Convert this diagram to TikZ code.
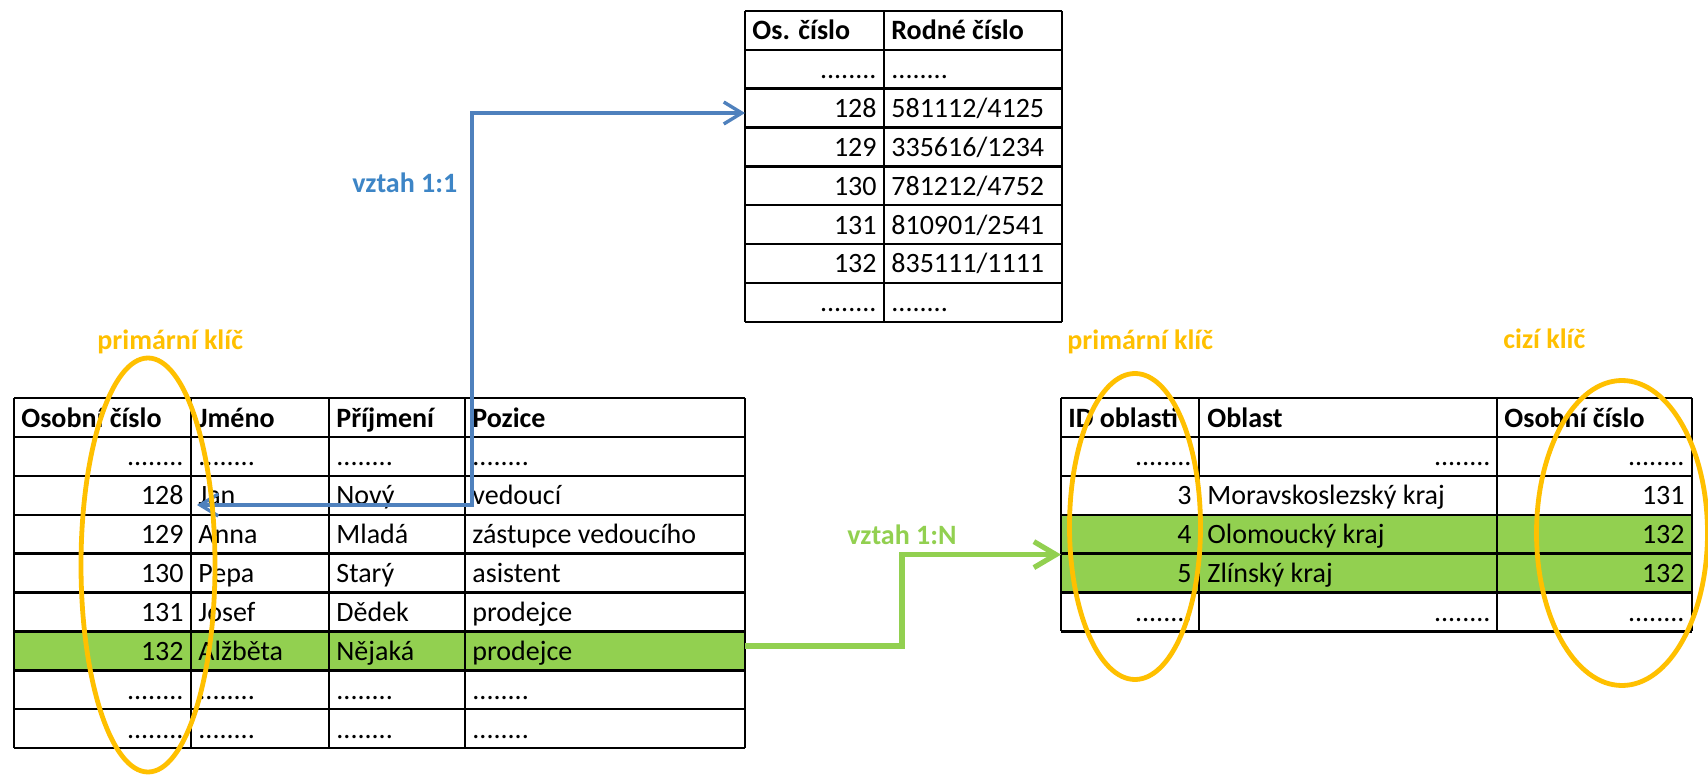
\documentclass[tikz,border=0pt]{standalone}
\usepackage{fontspec}
\setmainfont{Carlito}
\usetikzlibrary{arrows.meta,shapes.geometric}
\definecolor{keygold}{HTML}{FFC000}
\definecolor{rowgreen}{HTML}{92D050}
\definecolor{linkblue}{HTML}{4F81BD}
\definecolor{labelblue}{HTML}{3D85C6}
\newcommand{\mydots}{........}
\begin{document}
\begin{tikzpicture}[x=0.5pt,y=-0.5pt,
  grid/.style={line width=1.2pt, black},
  cellfont/.style={font=\fontsize{14}{16}\selectfont},
  txt/.style={cellfont, inner sep=0pt, anchor=base west},
  num/.style={cellfont, inner sep=0pt, anchor=base east},
  hdr/.style={inner sep=0pt, anchor=base west, font=\fontsize{14}{16}\selectfont\bfseries},
  keyring/.style={draw=keygold, line width=2.4pt, ellipse, inner sep=0pt},
  keylabel/.style={text=keygold, font=\fontsize{14}{16}\selectfont\bfseries, inner sep=0pt, anchor=base west},
  bluelink/.style={draw=linkblue, line width=1.7pt, arrows={Straight Barb[length=9pt,width=11pt]-Straight Barb[length=9pt,width=11pt]}},
  greenlink/.style={draw=rowgreen, line width=2.6pt, arrows={-Straight Barb[length=11pt,width=13pt]}},
  linklabel/.style={font=\fontsize{14}{16}\selectfont\bfseries, inner sep=0pt, anchor=base west}
]
\useasboundingbox (0,0) rectangle (1708,775);
\fill[white] (0,0) rectangle (1708,775);

% ---------- green highlighted rows ----------
\fill[rowgreen] (14,631.4) rectangle (745,670.3);
\fill[rowgreen] (1061,514.7) rectangle (1692,592.5);

% ---------- top table (Os. cislo / Rodne cislo) ----------
\foreach \k in {0,1,2,3,4,5,6,7,8} \draw[grid] (745,{11+38.85*\k}) -- (1062,{11+38.85*\k});
\foreach \x in {745,884,1062} \draw[grid] (\x,11) -- (\x,321.8);
\node[hdr] (T-h0) at (752,39.5) {Os. číslo};
\node[hdr] (T-h1) at (891,39.5) {Rodné číslo};
\foreach \r/\a/\b [evaluate=\r as \yb using 11+38.85*(\r+1)-10] in
  {1/\mydots/\mydots, 2/128/581112\slash 4125, 3/129/335616\slash 1234, 4/130/781212\slash 4752,
   5/131/810901\slash 2541, 6/132/835111\slash 1111, 7/\mydots/\mydots}
{
  \node[num] (T-\r-0) at (877,\yb) {\a};
  \node[txt] (T-\r-1) at (891,\yb) {\b};
}

% ---------- left table (employees) ----------
\foreach \k in {0,1,2,3,4,5,6,7,8,9} \draw[grid] (14,{398+38.9*\k}) -- (745,{398+38.9*\k});
\foreach \x in {14,191,329,465,745} \draw[grid] (\x,398) -- (\x,748.1);
\node[hdr] (L-h0) at (21,427) {Osobní číslo};
\node[hdr] (L-h1) at (198,427) {Jméno};
\node[hdr] (L-h2) at (336,427) {Příjmení};
\node[hdr] (L-h3) at (472,427) {Pozice};
\foreach \r/\a/\b/\c/\d [evaluate=\r as \yb using 398+38.9*(\r+1)-10] in
  {1/\mydots/\mydots/\mydots/\mydots,
   2/128/Jan/Nový/vedoucí,
   3/129/Anna/Mladá/zástupce vedoucího,
   4/130/Pepa/Starý/asistent,
   5/131/Josef/Dědek/prodejce,
   6/132/Alžběta/Nějaká/prodejce,
   7/\mydots/\mydots/\mydots/\mydots,
   8/\mydots/\mydots/\mydots/\mydots}
{
  \node[num] (L-\r-0) at (184,\yb) {\a};
  \node[txt] (L-\r-1) at (198,\yb) {\b};
  \node[txt] (L-\r-2) at (336,\yb) {\c};
  \node[txt] (L-\r-3) at (472,\yb) {\d};
}

% ---------- right table (regions) ----------
\foreach \k in {0,1,2,3,4,5,6} \draw[grid] (1061,{398+38.9*\k}) -- (1692,{398+38.9*\k});
\foreach \x in {1061,1199,1497,1692} \draw[grid] (\x,398) -- (\x,631.4);
\node[hdr] (R-h0) at (1068,427) {ID oblasti};
\node[hdr] (R-h1) at (1207,427) {Oblast};
\node[hdr] (R-h2) at (1504,427) {Osobní číslo};
\node[num] (R-1-0) at (1192,465.9) {\mydots};
\node[num] (R-1-1) at (1491,465.9) {\mydots};
\node[num] (R-1-2) at (1685,465.9) {\mydots};
\node[num] (R-2-0) at (1192,504.8) {3};
\node[txt] (R-2-1) at (1207,504.8) {Moravskoslezský kraj};
\node[num] (R-2-2) at (1685,504.8) {131};
\node[num] (R-3-0) at (1192,543.7) {4};
\node[txt] (R-3-1) at (1207,543.7) {Olomoucký kraj};
\node[num] (R-3-2) at (1685,543.7) {132};
\node[num] (R-4-0) at (1192,582.6) {5};
\node[txt] (R-4-1) at (1207,582.6) {Zlínský kraj};
\node[num] (R-4-2) at (1685,582.6) {132};
\node[num] (R-5-0) at (1192,621.5) {\mydots};
\node[num] (R-5-1) at (1491,621.5) {\mydots};
\node[num] (R-5-2) at (1685,621.5) {\mydots};

% ---------- connectors ----------
\coordinate (blueL) at (197,505);
\coordinate (blueBend) at (472,113);
\coordinate (blueR) at (745,113);
\draw[bluelink] (blueL) -| (blueBend) -- (blueR);
\node[linklabel, text=labelblue] (oneToOne) at (352,193) {vztah 1:1};

\coordinate (greenA) at (745,646);
\coordinate (greenBend) at (902,554.6);
\coordinate (greenB) at (1061,554.6);
\draw[greenlink] (greenA) -| (greenBend) -- (greenB);
\node[linklabel, text=rowgreen] (oneToMany) at (847,544) {vztah 1:N};

% ---------- key ellipses ----------
\node[keyring, minimum width=67pt, minimum height=207pt] (pkLeft) at (148,565) {};
\node[keyring, minimum width=65.5pt, minimum height=153pt] (pkRight) at (1135,526.5) {};
\node[keyring, minimum width=85.5pt, minimum height=152.5pt] (fkRight) at (1622,533) {};
\node[keylabel] (pkLeftLabel) at (97,350) {primární klíč};
\node[keylabel] (pkRightLabel) at (1067,350) {primární klíč};
\node[keylabel] (fkRightLabel) at (1503,349) {cizí klíč};
\end{tikzpicture}
\end{document}
